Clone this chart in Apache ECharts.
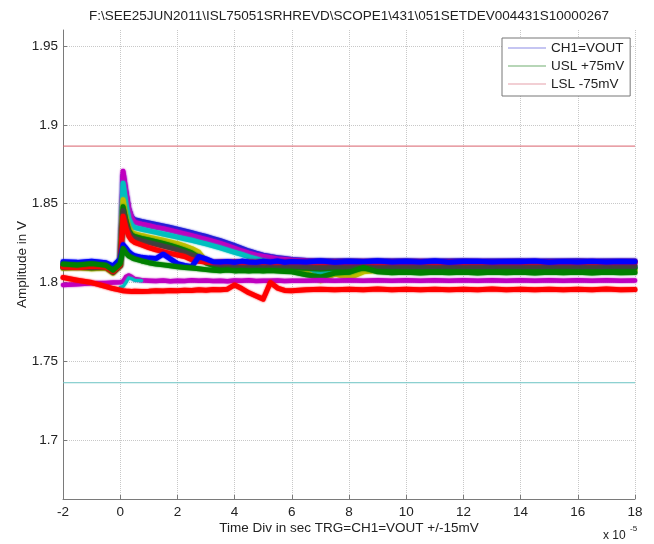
<!DOCTYPE html>
<html>
<head>
<meta charset="utf-8">
<script src="https://cdn.jsdelivr.net/npm/echarts@6/dist/echarts.min.js"></script>
<style>
html,body{margin:0;padding:0;background:#fff;}
#chart{width:654px;height:544px;}
</style>
</head>
<body>
<div id="chart"></div>
<script>
// Time axis (units of 1e-5 s)
var t = [-2,-1.5,-1,-0.5,-0.25,0,0.1,0.2,0.3,0.4,
  0.5,0.75,1,1.25,1.5,1.75,2,2.25,2.5,2.75,3,3.25,3.5,3.75,4,4.25,4.5,4.75,5,5.25,5.5,5.75,6,
  6.5,7,7.5,8,8.5,9,9.5,10,10.5,11,11.5,12,12.5,13,13.5,14,14.5,15,15.5,16,16.5,17,17.5,18];

var yTicks = [1.7,1.75,1.8,1.85,1.9,1.95];
var uslValue = 1.8865;
var lslValue = 1.7365;

// Captured VOUT traces (V)
var blueTop = [1.8112,1.8108,1.8114,1.8110,1.8088,1.8118,1.8680,1.8570,1.8465,1.8415,
  1.8398,1.8387,1.8378,1.8368,1.8359,1.8349,1.8338,1.8327,1.8316,1.8304,1.8292,1.8279,1.8265,1.8250,1.8234,1.8217,1.8200,1.8186,1.8174,1.8165,1.8158,1.8152,1.8147,
  1.8140,1.8138,1.8136,1.8138,1.8135,1.8138,1.8136,1.8138,1.8135,1.8137,1.8136,1.8138,1.8135,1.8137,1.8136,1.8138,1.8135,1.8137,1.8136,1.8138,1.8135,1.8137,1.8136,1.8137];
var magentaHigh = [1.8110,1.8115,1.8108,1.8112,1.8085,1.8120,1.8705,1.8580,1.8470,1.8410,
  1.8382,1.8370,1.8360,1.8350,1.8342,1.8331,1.8320,1.8308,1.8297,1.8285,1.8274,1.8261,1.8248,1.8233,1.8217,1.8200,1.8186,1.8174,1.8165,1.8157,1.8150,1.8146,1.8141,
  1.8135,1.8128,1.8125,1.8122,1.8125,1.8121,1.8124,1.8122,1.8126,1.8121,1.8124,1.8122,1.8125,1.8121,1.8124,1.8123,1.8125,1.8121,1.8124,1.8122,1.8125,1.8122,1.8124,1.8123];
var cyanHigh = [1.8105,1.8100,1.8108,1.8102,1.8080,1.8115,1.8630,1.8500,1.8405,1.8365,
  1.8348,1.8338,1.8328,1.8318,1.8308,1.8298,1.8288,1.8278,1.8268,1.8256,1.8245,1.8233,1.8220,1.8206,1.8192,1.8178,1.8163,1.8150,1.8138,1.8128,1.8122,1.8118,1.8112,
  1.8095,1.8060,1.8085,1.8055,1.8090,1.8098,1.8095,1.8099,1.8096,1.8098,1.8095,1.8099,1.8096,1.8098,1.8095,1.8099,1.8096,1.8098,1.8095,1.8099,1.8096,1.8098,1.8095,1.8097];
var yellowHigh = [1.8090,1.8095,1.8088,1.8092,1.8060,1.8110,1.8525,1.8420,1.8350,1.8318,
  1.8310,1.8298,1.8288,1.8278,1.8268,1.8258,1.8247,1.8232,1.8216,1.8192,1.8135,1.8112,1.8100,1.8095,1.8092,1.8096,1.8090,1.8094,1.8091,1.8095,1.8090,1.8085,1.8080,
  1.8065,1.8012,1.8055,1.8030,1.8068,1.8078,1.8075,1.8079,1.8076,1.8078,1.8075,1.8079,1.8076,1.8078,1.8075,1.8079,1.8076,1.8078,1.8075,1.8079,1.8076,1.8078,1.8075,1.8077];
var greenHigh = [1.8096,1.8100,1.8094,1.8098,1.8070,1.8108,1.8480,1.8395,1.8330,1.8302,
  1.8292,1.8280,1.8270,1.8259,1.8248,1.8236,1.8222,1.8206,1.8188,1.8160,1.8125,1.8108,1.8100,1.8097,1.8094,1.8098,1.8093,1.8096,1.8094,1.8097,1.8093,1.8095,1.8094,
  1.8090,1.8086,1.8092,1.8088,1.8093,1.8090,1.8092,1.8089,1.8093,1.8090,1.8092,1.8089,1.8093,1.8090,1.8092,1.8089,1.8093,1.8090,1.8092,1.8089,1.8093,1.8090,1.8092,1.8091];
var grayHigh = [1.8098,1.8102,1.8095,1.8100,1.8065,1.8105,1.8455,1.8370,1.8315,1.8290,
  1.8278,1.8264,1.8253,1.8242,1.8231,1.8220,1.8207,1.8192,1.8176,1.8158,1.8140,1.8122,1.8112,1.8108,1.8105,1.8109,1.8104,1.8107,1.8105,1.8108,1.8104,1.8106,1.8105,
  1.8100,1.8095,1.8102,1.8098,1.8104,1.8102,1.8105,1.8101,1.8104,1.8102,1.8105,1.8101,1.8104,1.8102,1.8105,1.8101,1.8104,1.8102,1.8105,1.8101,1.8104,1.8102,1.8105,1.8103];
var redHigh = [1.8100,1.8096,1.8103,1.8098,1.8070,1.8110,1.8420,1.8345,1.8295,1.8268,
  1.8255,1.8238,1.8222,1.8208,1.8196,1.8185,1.8175,1.8165,1.8145,1.8135,1.8130,1.8128,1.8131,1.8129,1.8132,1.8128,1.8131,1.8129,1.8132,1.8128,1.8131,1.8129,1.8132,
  1.8130,1.8128,1.8131,1.8129,1.8132,1.8128,1.8131,1.8129,1.8132,1.8128,1.8131,1.8129,1.8132,1.8128,1.8131,1.8129,1.8132,1.8128,1.8131,1.8129,1.8132,1.8128,1.8131,1.8130];
var blueMid = [1.8132,1.8128,1.8135,1.8125,1.8105,1.8150,1.8240,1.8220,1.8195,1.8180,
  1.8170,1.8160,1.8155,1.8152,1.8180,1.8150,1.8120,1.8108,1.8100,1.8165,1.8150,1.8132,1.8130,1.8134,1.8129,1.8136,1.8131,1.8128,1.8135,1.8130,1.8137,1.8129,1.8134,
  1.8131,1.8136,1.8129,1.8134,1.8132,1.8137,1.8130,1.8134,1.8131,1.8136,1.8129,1.8133,1.8135,1.8130,1.8134,1.8132,1.8136,1.8129,1.8134,1.8131,1.8135,1.8130,1.8133,1.8132];
var greenMid = [1.8118,1.8112,1.8120,1.8110,1.8078,1.8120,1.8215,1.8188,1.8168,1.8158,
  1.8150,1.8137,1.8126,1.8118,1.8112,1.8106,1.8100,1.8096,1.8092,1.8087,1.8082,1.8078,1.8075,1.8079,1.8074,1.8077,1.8073,1.8076,1.8074,1.8077,1.8073,1.8070,1.8068,
  1.8050,1.8035,1.8060,1.8065,1.8095,1.8068,1.8062,1.8066,1.8061,1.8065,1.8062,1.8066,1.8061,1.8065,1.8062,1.8066,1.8061,1.8065,1.8062,1.8066,1.8061,1.8065,1.8062,1.8064];
var magentaLow = [1.7985,1.7990,1.7995,1.7998,1.8000,1.8002,1.8005,1.8035,1.8045,1.8035,
  1.8022,1.8015,1.8012,1.8010,1.8013,1.8009,1.8012,1.8010,1.8014,1.8011,1.8013,1.8010,1.8012,1.8009,1.8013,1.8011,1.8014,1.8010,1.8012,1.8011,1.8013,1.8010,1.8012,
  1.8012,1.8015,1.8011,1.8014,1.8012,1.8015,1.8011,1.8014,1.8012,1.8015,1.8011,1.8014,1.8012,1.8015,1.8011,1.8014,1.8012,1.8015,1.8011,1.8014,1.8012,1.8015,1.8011,1.8013];
var cyanLow = [null,null,null,null,null,1.7970,1.7975,1.8000,1.8030,1.8025,
  1.8015,1.8012,null,null,null,null,null,null,null,null,null,null,null,null,null,null,null,null,null,null,null,null,null,
  null,null,null,null,null,null,null,null,null,null,null,null,null,null,null,null,null,null,null,null,null,null,null,null];
var redLow = [1.8032,1.8015,1.8000,1.7975,1.7962,1.7952,1.7948,1.7946,1.7945,1.7944,
  1.7945,1.7944,1.7945,1.7948,1.7946,1.7950,1.7948,1.7952,1.7950,1.7954,1.7952,1.7956,1.7954,1.7958,1.7985,1.7962,1.7935,1.7915,1.7895,1.8000,1.7965,1.7950,1.7948,
  1.7955,1.7958,1.7954,1.7957,1.7955,1.7959,1.7954,1.7957,1.7955,1.7958,1.7954,1.7957,1.7955,1.7959,1.7954,1.7957,1.7955,1.7958,1.7954,1.7957,1.7955,1.7959,1.7954,1.7956];

var FONT = '"Liberation Sans", Arial, sans-serif';

function pairs(vals){ return t.map(function(x,i){ return [x, vals[i]]; }); }
function trace(vals, color, w){
  return {type:'line', name:'CH1=VOUT', data:pairs(vals), symbol:'none', silent:true,
    connectNulls:false,
    lineStyle:{width:w, color:color, join:'round', cap:'round', shadowBlur:2, shadowColor:color},
    itemStyle:{color:color}, z:3};
}

var chart = echarts.init(document.getElementById('chart'), null, {renderer:'canvas'});
chart.setOption({
  animation:false,
  backgroundColor:'#fff',
  grid:{left:63, right:19, top:30, bottom:45, containLabel:false},
  xAxis:{type:'value', min:-2, max:18, interval:2,
    axisLine:{onZero:false, lineStyle:{color:'#7a7a7a'}},
    axisTick:{inside:true, length:4, lineStyle:{color:'#7a7a7a'}},
    axisLabel:{color:'#222', fontSize:13.5, fontFamily:FONT, margin:6},
    splitLine:{show:true, lineStyle:{type:'dotted', color:'#c8c8c8'}},
    name:'Time Div in sec TRG=CH1=VOUT +/-15mV', nameLocation:'middle', nameGap:22,
    nameMoveOverlap:false,
    nameTextStyle:{color:'#222', fontSize:13.5, fontFamily:FONT}},
  yAxis:{type:'value', min:1.6628, max:1.9601,
    axisLine:{show:true, onZero:false, lineStyle:{color:'#7a7a7a'}},
    axisTick:{show:true, inside:true, length:4, customValues:yTicks, lineStyle:{color:'#7a7a7a'}},
    axisLabel:{color:'#222', fontSize:13.5, fontFamily:FONT, margin:5, customValues:yTicks,
      formatter:function(v){ return String(+v.toFixed(2)); }},
    splitLine:{show:true, lineStyle:{type:'dotted', color:'#c8c8c8'}},
    name:'Amplitude in V', nameLocation:'middle', nameGap:34, nameMoveOverlap:false,
    nameTextStyle:{color:'#222', fontSize:13.5, fontFamily:FONT}},
  legend:{orient:'vertical', left:502, top:38, padding:[2,6,4,6], itemGap:2,
    itemWidth:38, itemHeight:1, icon:'rect',
    backgroundColor:'#fff', borderColor:'#777', borderWidth:1,
    textStyle:{color:'#222', fontSize:13.5, fontFamily:FONT, lineHeight:16},
    data:[
      {name:'CH1=VOUT', itemStyle:{color:'#8c8ce6'}},
      {name:'USL +75mV', itemStyle:{color:'#70ae70'}},
      {name:'LSL -75mV', itemStyle:{color:'#e6a0aa'}}
    ]},
  graphic:[
    {type:'text', x:349, y:16, style:{text:'F:\\SEE25JUN2011\\ISL75051SRHREVD\\SCOPE1\\431\\051SETDEV004431S10000267',
      align:'center', verticalAlign:'middle', fontSize:13.5, fontFamily:FONT, fill:'#222'}},
    {type:'text', x:603, y:536, style:{text:'x 10', align:'left', verticalAlign:'middle', fontSize:12, fontFamily:FONT, fill:'#222'}},
    {type:'text', x:630, y:529, style:{text:'-5', align:'left', verticalAlign:'middle', fontSize:8, fontFamily:FONT, fill:'#222'}}
  ],
  series:[
    {type:'line', name:'USL +75mV', data:[[-2,uslValue],[18,uslValue]], symbol:'none', silent:true,
      lineStyle:{width:1, color:'#d9606c'}, itemStyle:{color:'#d9606c'}, z:2},
    {type:'line', name:'LSL -75mV', data:[[-2,lslValue],[18,lslValue]], symbol:'none', silent:true,
      lineStyle:{width:1, color:'#6cc4c4'}, itemStyle:{color:'#6cc4c4'}, z:2},
    trace(blueTop,'#2020d8',5),
    trace(magentaHigh,'#bf00bf',5),
    trace(cyanHigh,'#00bfbf',5),
    trace(yellowHigh,'#bfbf00',5),
    trace(greenHigh,'#008000',5),
    trace(grayHigh,'#404040',5),
    trace(redHigh,'#ff0000',5),
    trace(blueMid,'#0000ff',5),
    trace(greenMid,'#008000',5),
    trace(magentaLow,'#bf00bf',4.5),
    trace(cyanLow,'#00bfbf',3),
    trace(redLow,'#ff0000',5)
  ]
});
</script>
</body>
</html>
